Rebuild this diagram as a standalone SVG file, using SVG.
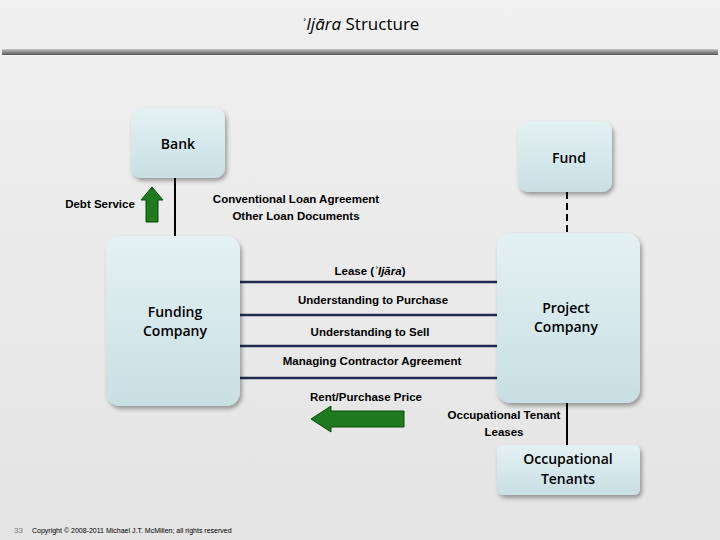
<svg xmlns="http://www.w3.org/2000/svg" width="720" height="540" viewBox="0 0 720 540">
<defs>
<linearGradient id="bg" x1="0" y1="0" x2="0" y2="1"><stop offset="0" stop-color="#f0f0f0"/><stop offset="1" stop-color="#e4e4e4"/></linearGradient>
<linearGradient id="bar" x1="0" y1="0" x2="0" y2="1"><stop offset="0" stop-color="#c8c8c8"/><stop offset="0.5" stop-color="#8a8a8a"/><stop offset="1" stop-color="#5a5a5a"/></linearGradient>
<linearGradient id="box" x1="0" y1="0" x2="0" y2="1"><stop offset="0" stop-color="#e4f1f3"/><stop offset="1" stop-color="#c8dfe3"/></linearGradient>
<filter id="sh" x="-10%" y="-10%" width="130%" height="130%"><feDropShadow dx="2" dy="3" stdDeviation="2" flood-color="#000" flood-opacity="0.35"/></filter>
</defs>
<style>
.t{font-family:"Liberation Sans",Arial,sans-serif;font-size:11.5px;font-weight:bold;fill:#000;text-anchor:middle}
.n{font-family:"Open Sans","Liberation Sans",sans-serif;font-size:14px;font-weight:600;fill:#000;text-anchor:middle}
.b{fill:url(#box);filter:url(#sh)}
.ln{stroke:#1f2a50;stroke-width:2.5}
.k{stroke:#000;stroke-width:2}
.ar{fill:#1e7a1e;stroke:#0a4a0a;stroke-width:1}
</style>
<rect width="720" height="540" fill="url(#bg)"/>
<text x="360" y="30" class="n" style="font-size:17px;font-weight:normal"><tspan font-style="italic">ʾIjāra</tspan> Structure</text>
<rect x="2" y="49" width="716" height="6" fill="url(#bar)"/>
<g id="connectors">
<line x1="175" y1="178" x2="175" y2="236" class="k"/>
<line x1="567" y1="192" x2="567" y2="233" class="k" stroke-width="3.5" stroke-dasharray="7,4"/>
<line x1="240" y1="282" x2="497" y2="282" class="ln"/>
<line x1="240" y1="315" x2="497" y2="315" class="ln"/>
<line x1="240" y1="346" x2="497" y2="346" class="ln"/>
<line x1="240" y1="378" x2="497" y2="378" class="ln"/>
<line x1="567" y1="403" x2="567" y2="445" class="k"/>
<polygon class="ar" points="146,222 158,222 158,200 163,200 152,187 141,200 146,200"/>
<polygon class="ar" points="404,411 331,411 331,406 311,419 331,432 331,427 404,427"/>
<text x="296" y="203" class="t">Conventional Loan Agreement</text>
<text x="296" y="220" class="t">Other Loan Documents</text>
<text x="100" y="208" class="t">Debt Service</text>
<text x="370" y="275" class="t">Lease (<tspan font-style="italic">ʾIjāra</tspan>)</text>
<text x="373" y="304" class="t">Understanding to Purchase</text>
<text x="370" y="336" class="t">Understanding to Sell</text>
<text x="372" y="365" class="t">Managing Contractor Agreement</text>
<text x="366" y="401" class="t">Rent/Purchase Price</text>
<text x="504" y="419" class="t">Occupational Tenant</text>
<text x="504" y="436" class="t">Leases</text>
</g>
<g id="bank"><rect class="b" x="131" y="108" width="94" height="70" rx="10"/><text x="178" y="149" class="n">Bank</text></g>
<g id="fund"><rect class="b" x="518" y="121" width="94" height="71" rx="10"/><text x="569" y="163" class="n">Fund</text></g>
<g id="funding"><rect class="b" x="106" y="236" width="134" height="170" rx="14"/><text x="175" y="317" class="n">Funding</text><text x="175" y="336" class="n">Company</text></g>
<g id="project"><rect class="b" x="497" y="233" width="143" height="170" rx="14"/><text x="566" y="313" class="n">Project</text><text x="566" y="332" class="n">Company</text></g>
<g id="tenants"><rect class="b" x="497" y="445" width="143" height="50" rx="6"/><text x="568" y="464" class="n">Occupational</text><text x="568" y="484" class="n">Tenants</text></g>
<text x="14" y="533" font-family="Liberation Sans,sans-serif" font-size="8" fill="#777">33</text>
<text x="32" y="533" font-family="Liberation Sans,sans-serif" font-size="7" fill="#000">Copyright © 2008-2011 Michael J.T. McMillen; all rights reserved</text>
</svg>
